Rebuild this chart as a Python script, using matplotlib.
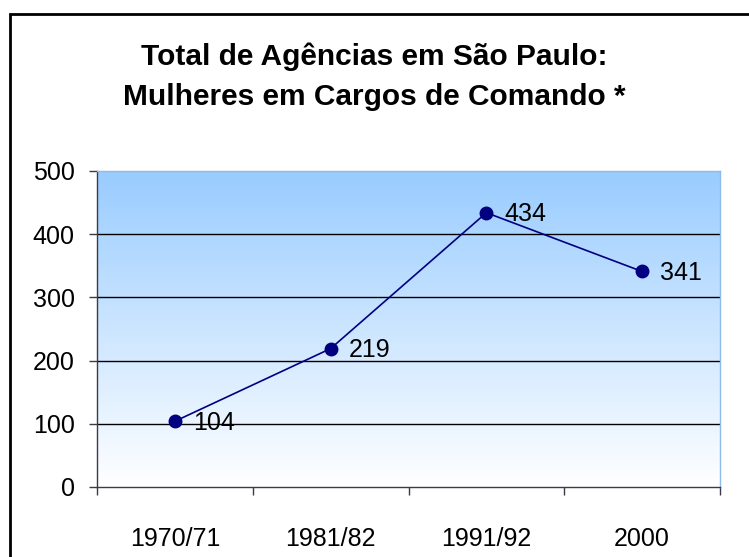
import numpy as np
import matplotlib
matplotlib.use("Agg")
import matplotlib.pyplot as plt
from matplotlib.patches import Rectangle
from matplotlib.colors import LinearSegmentedColormap

# data
periods = ["1970/71", "1981/82", "1991/92", "2000"]
women_in_command = [104, 219, 434, 341]
y_ticks = [0, 100, 200, 300, 400, 500]

title_line1 = "Total de Agências em São Paulo:"
title_line2 = "Mulheres em Cargos de Comando *"

plt.rcParams["font.family"] = ["Liberation Sans", "DejaVu Sans"]

fig = plt.figure(figsize=(7.49, 5.57), dpi=100)
W, H = 749, 557

# plot area placed like the original
ax = fig.add_axes([97 / W, (H - 487) / H, (720 - 97) / W, (487 - 171) / H])

x = np.arange(len(periods))
ax.set_xlim(-0.5, len(periods) - 0.5)
ax.set_ylim(0, 500)

# blue-to-white gradient background
grad = np.linspace(0, 1, 256).reshape(-1, 1)
cmap = LinearSegmentedColormap.from_list("bg", ["#FFFFFF", "#99CCFF"])
ax.imshow(grad, cmap=cmap, aspect="auto", origin="lower",
          extent=[-0.5, len(periods) - 0.5, 0, 500], zorder=0)

# horizontal gridlines
for v in y_ticks[1:-1]:
    ax.axhline(v, color="black", lw=1, zorder=1)

ax.plot(x, women_in_command, color="#000080", lw=1.2, marker="o",
        markersize=9, markerfacecolor="#000080", markeredgecolor="#000080", zorder=3)

for xi, v in zip(x, women_in_command):
    ax.annotate(str(v), (xi, v), xytext=(13, -1), textcoords="offset points",
                ha="left", va="center", fontsize=18, color="black", zorder=4)

# axes styling
ax.spines["top"].set_color("#8EBBEA")
ax.spines["right"].set_color("#8EBBEA")
ax.spines["left"].set_color("#3A3A4A")
ax.spines["bottom"].set_color("#3A3A4A")
for s in ax.spines.values():
    s.set_linewidth(1)

ax.set_yticks(y_ticks)
ax.set_yticklabels([str(t) for t in y_ticks], fontsize=18)
ax.tick_params(axis="y", direction="out", length=6, width=1, pad=10, color="#3A3A4A")

# category boundaries as ticks, labels at the centres
ax.set_xticks(np.arange(-0.5, len(periods)), labels=[""] * (len(periods) + 1))
ax.set_xticks(x, labels=periods, minor=True)
ax.tick_params(axis="x", which="major", direction="out", length=6, width=1, color="#3A3A4A")
ax.tick_params(axis="x", which="minor", length=0, pad=29, labelsize=18)

# title
fig.text(0.5, 1 - 65 / H, title_line1, ha="center", va="baseline",
         fontsize=21.5, fontweight="bold")
fig.text(0.5, 1 - 105 / H, title_line2, ha="center", va="baseline",
         fontsize=21.5, fontweight="bold")

# outer chart frame (left and top edges visible)
fig.patches.append(Rectangle((10 / W, -0.1), 1.2, 1 - 14 / H + 0.1,
                             transform=fig.transFigure, fill=False,
                             edgecolor="black", lw=2))

fig.savefig("out.png", dpi=100)
